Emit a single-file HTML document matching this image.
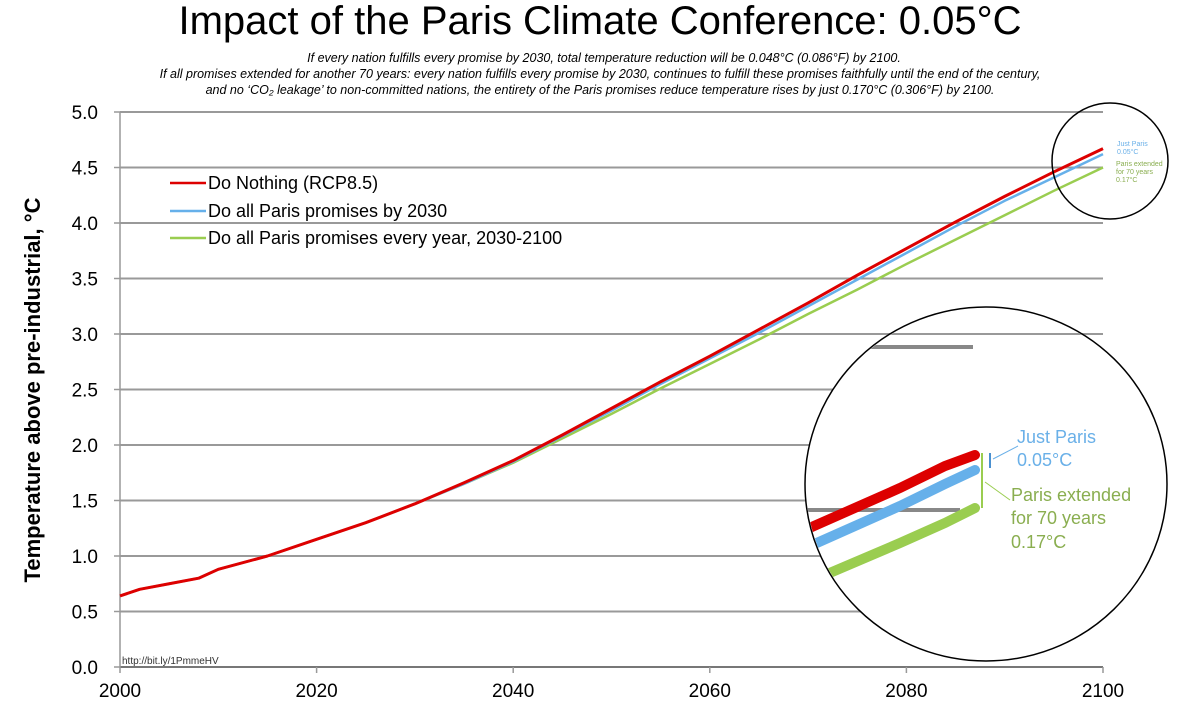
<!DOCTYPE html>
<html><head><meta charset="utf-8"><style>
body{margin:0;background:#fff;}
svg{display:block;font-family:"Liberation Sans",sans-serif;}
</style></head><body>
<svg id="c" width="1200" height="717" viewBox="0 0 1200 717">
<text x="600" y="34" text-anchor="middle" font-size="40">Impact of the Paris Climate Conference: 0.05°C</text>
<g font-size="12.5" font-style="italic" text-anchor="middle">
<text x="604" y="62">If every nation fulfills every promise by 2030, total temperature reduction will be 0.048°C (0.086°F) by 2100.</text>
<text x="600" y="78">If all promises extended for another 70 years: every nation fulfills every promise by 2030, continues to fulfill these promises faithfully until the end of the century,</text>
<text x="600" y="94">and no ‘CO₂ leakage’ to non-committed nations, the entirety of the Paris promises reduce temperature rises by just 0.170°C (0.306°F) by 2100.</text>
</g>
<g id="grid"></g>
<g id="series"></g>
<text x="40" y="390" transform="rotate(-90 40 390)" text-anchor="middle" font-size="22" font-weight="bold">Temperature above pre-industrial, °C</text>
<text x="122" y="664" font-size="10" fill="#333">http://bit.ly/1PmmeHV</text>
<g font-size="18">
<g><line x1="170" y1="183" x2="206" y2="183" stroke="#dd0000" stroke-width="2.5"/><text x="208" y="189">Do Nothing (RCP8.5)</text></g>
<g><line x1="170" y1="211" x2="206" y2="211" stroke="#66b0ea" stroke-width="2.5"/><text x="208" y="217">Do all Paris promises by 2030</text></g>
<g><line x1="170" y1="238" x2="206" y2="238" stroke="#9acd50" stroke-width="2.5"/><text x="208" y="244">Do all Paris promises every year, 2030-2100</text></g>
</g>
<circle cx="1110" cy="161" r="58" fill="none" stroke="#000" stroke-width="1.5"/>
<g font-size="7">
<text x="1117" y="146" fill="#6ab0e8">Just Paris</text><text x="1117" y="154" fill="#6ab0e8">0.05°C</text>
<text x="1116" y="166" fill="#8aae50">Paris extended</text><text x="1116" y="174" fill="#8aae50">for 70 years</text><text x="1116" y="182" fill="#8aae50">0.17°C</text>
</g>
<g>
<ellipse cx="986" cy="484" rx="181" ry="177" fill="#fff" stroke="#000" stroke-width="1.5"/>
<clipPath id="cp"><ellipse cx="986" cy="484" rx="180" ry="176"/></clipPath>
<g clip-path="url(#cp)">
<line x1="800" y1="334" x2="1103" y2="334" stroke="#999" stroke-width="2"/>
<line x1="800" y1="390" x2="1103" y2="390" stroke="#999" stroke-width="0"/>
<line x1="860" y1="347" x2="973" y2="347" stroke="#888" stroke-width="4"/>
<line x1="800" y1="510" x2="960" y2="510" stroke="#888" stroke-width="4"/>
<path d="M805 530 L900 488 L945 466 L975 455" stroke="#dd0000" stroke-width="10" fill="none" stroke-linecap="round"/>
<path d="M810 546 L900 506 L945 484 L975 470" stroke="#66b0ea" stroke-width="10" fill="none" stroke-linecap="round"/>
<path d="M825 575 L900 543 L945 523 L975 508" stroke="#9acd50" stroke-width="10" fill="none" stroke-linecap="round"/>
<line x1="982" y1="453" x2="982" y2="508" stroke="#9acd50" stroke-width="2"/>
<line x1="990" y1="453" x2="990" y2="468" stroke="#4a90d0" stroke-width="2"/>
<line x1="993" y1="459" x2="1018" y2="446" stroke="#6ab0e8" stroke-width="1"/>
<line x1="985" y1="482" x2="1010" y2="500" stroke="#9acd50" stroke-width="1"/>
<g font-size="18"><text x="1017" y="443" fill="#6ab0e8">Just Paris</text><text x="1017" y="466" fill="#6ab0e8">0.05°C</text>
<text x="1011" y="501" fill="#8aae50">Paris extended</text><text x="1011" y="524" fill="#8aae50">for 70 years</text><text x="1011" y="548" fill="#8aae50">0.17°C</text></g>
</g>
</g>
</svg>
<script>
const years=[2000,2002,2005,2008,2010,2015,2020,2025,2030,2035,2040,2045,2050,2055,2060,2065,2070,2075,2080,2085,2090,2095,2100];
const doNothing=[0.64,0.70,0.75,0.80,0.88,1.00,1.15,1.30,1.47,1.66,1.86,2.09,2.33,2.57,2.80,3.04,3.28,3.53,3.77,4.01,4.24,4.46,4.67];
const paris2030=[0.64,0.70,0.75,0.80,0.88,1.00,1.15,1.30,1.47,1.65,1.85,2.08,2.31,2.55,2.78,3.01,3.25,3.49,3.73,3.97,4.20,4.41,4.62];
const parisExtended=[0.64,0.70,0.75,0.80,0.88,1.00,1.15,1.30,1.47,1.65,1.84,2.06,2.28,2.51,2.73,2.95,3.18,3.40,3.63,3.85,4.07,4.29,4.50];
const yTicks=[0,0.5,1,1.5,2,2.5,3,3.5,4,4.5,5];
const yTickLabels=["0.0","0.5","1.0","1.5","2.0","2.5","3.0","3.5","4.0","4.5","5.0"];
const xTicks=[2000,2020,2040,2060,2080,2100];
const NS="http://www.w3.org/2000/svg";
const X0=120,X1=1103,Y0=667,Y1=112;
function xs(v){return X0+(v-2000)/100*(X1-X0);}
function ys(v){return Y0-(v/5)*(Y0-Y1);}
function mk(t,a,p){const e=document.createElementNS(NS,t);for(const k in a)e.setAttribute(k,a[k]);p.appendChild(e);return e;}
const g=document.getElementById('grid');
yTicks.forEach((v,i)=>{
 const l=mk('line',{x1:X0,x2:X1,y1:ys(v),y2:ys(v),stroke:v===0?'#777':'#999','stroke-width':2},g);
 
 
 const tk=mk('line',{x1:X0-6,x2:X0,y1:ys(v),y2:ys(v),stroke:'#999','stroke-width':1.5},g);
 
 
 const t=mk('text',{x:X0-22,y:ys(v)+7,'text-anchor':'end','font-size':19},g);
 t.textContent=yTickLabels[i];
 
 
});
const ax=mk('line',{x1:X0,x2:X0,y1:Y1,y2:Y0,stroke:'#999','stroke-width':1.5},g);


xTicks.forEach(v=>{
 const tk=mk('line',{x1:xs(v),x2:xs(v),y1:Y0,y2:Y0+6,stroke:'#999','stroke-width':1.5},g);
 
 
 const t=mk('text',{x:xs(v),y:697,'text-anchor':'middle','font-size':19},g);
 t.textContent=v;
 
 
});
const s=document.getElementById('series');
[[parisExtended,'#9acd50','line-paris-extended'],[paris2030,'#66b0ea','line-paris-2030'],[doNothing,'#dd0000','line-do-nothing']].forEach(([d,c,n])=>{
 const p=mk('polyline',{points:years.map((y,i)=>xs(y)+','+ys(d[i])).join(' '),fill:'none',stroke:c,'stroke-width':n==='line-do-nothing'?3:2.5,'stroke-linejoin':'round'},s);
 
 
});
</script>
</body></html>
